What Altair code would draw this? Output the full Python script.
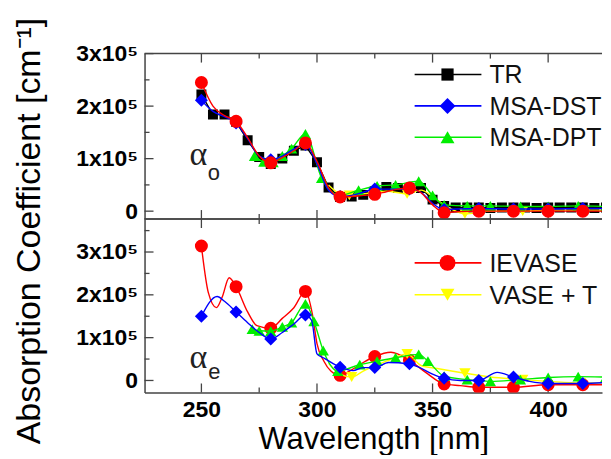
import altair as alt
import pandas as pd

FONT = "Liberation Sans"
AXIS_COLOR = "#444444"

# ---------------- axes ----------------
X_DOMAIN = [225.4, 423.3]
X_MAJOR = [250, 300, 350, 400]
X_MINOR = [275, 325, 375]
Y_MAJOR = [0, 1, 2, 3]          # units of 1e5 cm^-1
Y_MINOR_TOP = [0.5, 1.5, 2.5]
Y_MINOR_BOT = [0.5, 1.5, 2.5, 3.5]
TOP_Y_DOMAIN = [-0.15, 3.0]
BOT_Y_DOMAIN = [-0.28, 3.77]
Y_TITLE = "Absorption Coefficient [cm\u207b\u00b9]"

W = 459
H_TOP = 166
H_BOT = 174

# ---------------- data (absorption coefficient, units of 1e5 cm^-1) ----------------
# ordinary (alpha_o) panel
TR_O_WL = [250, 255, 260, 265, 270, 275, 280, 285, 290, 295, 300, 305, 310, 315, 320, 325, 330, 335,
           340, 345, 350, 355, 360, 365, 370, 375, 380, 385, 390, 395, 400, 405, 410, 415, 420, 425]
TR_O_VAL = [2.22, 1.84, 1.84, 1.70, 1.35, 1.03, 0.90, 1.00, 1.15, 1.25, 0.93, 0.45, 0.27, 0.28, 0.31, 0.38, 0.46, 0.44,
            0.44, 0.44, 0.22, 0.10, 0.07, 0.07, 0.07, 0.06, 0.07, 0.07, 0.07, 0.06, 0.07, 0.07, 0.07, 0.07, 0.06, 0.07]

IE_O_WL = [250, 255, 260, 265, 270, 275, 280, 285, 290, 295, 300, 305, 310, 315, 320, 325, 330, 335, 340, 345,
           350, 355, 360, 370, 385, 400, 415, 425]
IE_O_VAL = [2.45, 2.00, 1.82, 1.71, 1.40, 1.05, 0.92, 1.02, 1.15, 1.30, 0.95, 0.45, 0.27, 0.28, 0.30, 0.32, 0.37, 0.42, 0.44, 0.35,
            0.12, -0.03, -0.01, 0.0, 0.0, 0.0, 0.0, 0.0]
IE_O_MK_WL = [250, 265, 280, 295, 310, 325, 340, 355, 370, 385, 400, 415]
IE_O_MK_VAL = [2.45, 1.71, 0.92, 1.30, 0.27, 0.32, 0.44, -0.03, 0.0, 0.0, 0.0, 0.0]

DST_O_WL = [250, 255, 260, 265, 270, 275, 280, 285, 290, 295, 300, 305, 310, 315, 320, 325, 330, 335, 340, 345,
            350, 355, 360, 370, 385, 400, 415, 425]
DST_O_VAL = [2.11, 1.90, 1.80, 1.68, 1.38, 1.05, 0.98, 1.05, 1.18, 1.27, 0.90, 0.40, 0.28, 0.30, 0.36, 0.42, 0.42, 0.42, 0.42, 0.36,
             0.15, 0.03, 0.04, 0.05, 0.04, 0.04, 0.05, 0.05]
DST_O_MK_WL = [250, 265, 280, 295, 310, 325, 340, 355, 370, 385, 400, 415]
DST_O_MK_VAL = [2.11, 1.68, 0.98, 1.27, 0.28, 0.42, 0.42, 0.03, 0.05, 0.04, 0.04, 0.05]

DPT_O_WL = [273, 277, 281, 285, 289, 295, 302, 310, 318, 326, 334, 344, 350, 355, 365, 375, 388, 400, 413, 425]
DPT_O_VAL = [1.05, 0.94, 0.93, 1.05, 1.19, 1.47, 0.63, 0.30, 0.40, 0.48, 0.50, 0.57, 0.30, 0.12, 0.10, 0.10, 0.09, 0.09, 0.10, 0.09]

VT_O_WL = [305, 310, 314, 320, 330, 339, 345, 350, 355, 364, 375, 389, 400, 414, 425]
VT_O_VAL = [0.50, 0.33, 0.30, 0.33, 0.38, 0.33, 0.40, 0.28, 0.12, -0.05, 0.0, 0.0, 0.02, 0.02, 0.02]
VT_O_MK_WL = [314, 339, 364, 389, 414]
VT_O_MK_VAL = [0.30, 0.33, -0.05, 0.0, 0.02]

# extraordinary (alpha_e) panel
IE_E_WL = [250, 253, 256.5, 259, 262, 265, 270, 274, 280, 285, 290, 295, 298, 300, 303, 306, 310, 315, 320, 325,
           332, 340, 347, 355, 362, 370, 385, 400, 415, 425]
IE_E_VAL = [3.14, 2.05, 1.70, 1.95, 2.40, 2.19, 1.60, 1.28, 1.22, 1.45, 1.70, 2.08, 1.55, 0.86, 0.45, 0.22, 0.12, 0.25, 0.42, 0.56,
            0.66, 0.47, 0.19, -0.08, -0.12, -0.16, -0.16, -0.10, -0.10, -0.10]
IE_E_MK_WL = [250, 265, 280, 295, 310, 325, 340, 355, 370, 385, 400, 415]
IE_E_MK_VAL = [3.14, 2.19, 1.22, 2.08, 0.12, 0.56, 0.47, -0.08, -0.16, -0.16, -0.10, -0.10]

DST_E_WL = [250, 256.8, 260, 265, 270, 275, 280, 285, 290, 295, 297.7, 300, 303.4, 310, 315.6, 320, 325, 331, 339.4, 344,
            350, 355, 362, 370, 378, 385, 392, 400, 415, 425]
DST_E_VAL = [1.50, 1.96, 1.85, 1.60, 1.35, 1.12, 0.97, 1.12, 1.32, 1.53, 1.40, 0.62, 0.51, 0.31, 0.23, 0.30, 0.30, 0.42, 0.39, 0.31,
             0.15, 0.05, 0.0, 0.0, 0.19, 0.08, -0.02, -0.07, -0.07, -0.05]
DST_E_MK_WL = [250, 265, 280, 295, 310, 325, 340, 355, 370, 385, 400, 415]
DST_E_MK_VAL = [1.50, 1.60, 0.97, 1.53, 0.31, 0.30, 0.39, 0.05, 0.0, 0.08, -0.07, -0.07]

DPT_E_WL = [272, 275, 280, 285, 289, 295, 298.7, 302.7, 309, 318.5, 326, 334, 344, 348, 355, 365, 375, 388, 400, 413, 425]
DPT_E_VAL = [1.20, 1.16, 1.15, 1.25, 1.35, 1.79, 1.38, 0.70, 0.22, 0.37, 0.45, 0.53, 0.61, 0.45, 0.10, 0.02, -0.02, 0.02, 0.07, 0.09, 0.08]

VT_E_WL = [305, 310, 315, 320, 330, 339, 345, 352, 364, 375, 389, 400, 414, 425]
VT_E_VAL = [0.40, 0.15, 0.08, 0.22, 0.45, 0.62, 0.35, 0.28, 0.17, 0.08, 0.02, -0.02, -0.06, -0.05]
VT_E_MK_WL = [315, 339, 364, 389, 414]
VT_E_MK_VAL = [0.08, 0.62, 0.17, 0.02, -0.06]

LEGEND_TOP = ["TR", "MSA-DST", "MSA-DPT"]
LEGEND_BOT = ["IEVASE", "VASE + T"]

COLORS = {"TR": "#000000", "MSA-DST": "#0000FF", "MSA-DPT": "#00EE00", "IEVASE": "#FF0000", "VASE + T": "#FFFF00"}
SHAPES = {"TR": "square", "MSA-DST": "diamond", "MSA-DPT": "triangle-up", "IEVASE": "circle", "VASE + T": "triangle-down"}
SIZES = {"TR": 100, "MSA-DST": 170, "MSA-DPT": 130, "IEVASE": 170, "VASE + T": 130}

LABEL_EXPR = "datum.value == 0 ? '0' : datum.value + 'x10\u2075'"


def xenc(show):
    scale = alt.Scale(domain=X_DOMAIN, nice=False, zero=False)
    if show:
        ax = alt.Axis(values=X_MAJOR, labels=True, ticks=False, grid=False, domain=True,
                      domainColor=AXIS_COLOR, domainWidth=1.5, title="Wavelength [nm]",
                      labelFont=FONT, labelFontSize=23, labelFontWeight="bold", labelColor="black",
                      labelPadding=6, titleFont=FONT, titleFontSize=31, titleFontWeight="normal",
                      titleColor="black", titlePadding=3)
        return alt.X("wl:Q", scale=scale, axis=ax)
    return alt.X("wl:Q", scale=scale, axis=None)


def yenc(domain):
    ax = alt.Axis(values=Y_MAJOR, labelExpr=LABEL_EXPR, ticks=False, grid=False, domain=True,
                  domainColor=AXIS_COLOR, domainWidth=1.5, labelFont=FONT, labelFontSize=23,
                  labelFontWeight="bold", labelColor="black", labelPadding=7, title=None)
    return alt.Y("v:Q", scale=alt.Scale(domain=domain, nice=False, zero=False), axis=ax)


def line(wl, val, name, show, dom, interp="monotone"):
    df = pd.DataFrame({"wl": wl, "v": val})
    return alt.Chart(df).mark_line(color=COLORS[name], strokeWidth=1.4, interpolate=interp, clip=True).encode(
        x=xenc(show), y=yenc(dom))


def marks(wl, val, name, show, dom):
    df = pd.DataFrame({"wl": wl, "v": val})
    return alt.Chart(df).mark_point(shape=SHAPES[name], filled=True, opacity=1, size=SIZES[name],
                                    color=COLORS[name], strokeWidth=0, clip=True).encode(
        x=xenc(show), y=yenc(dom))


def frame(show, dom, h, yminor):
    dummy = pd.DataFrame({"a": [0]})
    layers = []
    layers.append(alt.Chart(dummy).mark_rule(color=AXIS_COLOR, strokeWidth=1.5).encode(
        x=alt.value(0), x2=alt.value(W), y=alt.value(0)))
    if not show:
        layers.append(alt.Chart(dummy).mark_rule(color=AXIS_COLOR, strokeWidth=1.5).encode(
            x=alt.value(0), x2=alt.value(W), y=alt.value(h)))
    layers.append(alt.Chart(pd.DataFrame({"v": Y_MAJOR})).mark_rule(color=AXIS_COLOR, strokeWidth=1.3).encode(
        y=yenc(dom), x=alt.value(0), x2=alt.value(9)))
    layers.append(alt.Chart(pd.DataFrame({"v": yminor})).mark_rule(color=AXIS_COLOR, strokeWidth=1.3).encode(
        y=yenc(dom), x=alt.value(0), x2=alt.value(5)))
    for vals, ln in ((X_MAJOR, 9), (X_MINOR, 5)):
        df = pd.DataFrame({"wl": vals})
        layers.append(alt.Chart(df).mark_rule(color=AXIS_COLOR, strokeWidth=1.3).encode(
            x=xenc(show), y=alt.value(h), y2=alt.value(h - ln)))
        layers.append(alt.Chart(df).mark_rule(color=AXIS_COLOR, strokeWidth=1.3).encode(
            x=xenc(show), y=alt.value(0), y2=alt.value(ln)))
    return layers


def legend(names, y0, step):
    layers = []
    dummy = pd.DataFrame({"a": [0]})
    for i, name in enumerate(names):
        y = y0 + i * step
        layers.append(alt.Chart(dummy).mark_rule(color=COLORS[name], strokeWidth=1.6).encode(
            x=alt.value(271), x2=alt.value(338), y=alt.value(y)))
        layers.append(alt.Chart(dummy).mark_point(shape=SHAPES[name], filled=True, opacity=1,
                                                  size=SIZES[name] * 1.5, color=COLORS[name], strokeWidth=0).encode(
            x=alt.value(304), y=alt.value(y)))
        layers.append(alt.Chart(dummy).mark_text(text=name, align="left", baseline="middle", font=FONT,
                                                 fontSize=25, color="#111111").encode(
            x=alt.value(346), y=alt.value(y + 1)))
    return layers


def alpha(sub, show, dom, wl, v, wl2, v2):
    a = alt.Chart(pd.DataFrame({"wl": [wl], "v": [v]})).mark_text(
        text="\u03b1", font="Liberation Serif", fontSize=34, color="#222222").encode(x=xenc(show), y=yenc(dom))
    s = alt.Chart(pd.DataFrame({"wl": [wl2], "v": [v2]})).mark_text(
        text=sub, font=FONT, fontSize=22, color="#222222").encode(x=xenc(show), y=yenc(dom))
    return [a, s]


top_layers = frame(False, TOP_Y_DOMAIN, H_TOP, Y_MINOR_TOP)
top_layers += [
    line(TR_O_WL, TR_O_VAL, "TR", False, TOP_Y_DOMAIN, "linear"),
    marks(TR_O_WL, TR_O_VAL, "TR", False, TOP_Y_DOMAIN),
    line(VT_O_WL, VT_O_VAL, "VASE + T", False, TOP_Y_DOMAIN),
    marks(VT_O_MK_WL, VT_O_MK_VAL, "VASE + T", False, TOP_Y_DOMAIN),
    line(DPT_O_WL, DPT_O_VAL, "MSA-DPT", False, TOP_Y_DOMAIN),
    marks(DPT_O_WL, DPT_O_VAL, "MSA-DPT", False, TOP_Y_DOMAIN),
    line(DST_O_WL, DST_O_VAL, "MSA-DST", False, TOP_Y_DOMAIN),
    marks(DST_O_MK_WL, DST_O_MK_VAL, "MSA-DST", False, TOP_Y_DOMAIN),
    line(IE_O_WL, IE_O_VAL, "IEVASE", False, TOP_Y_DOMAIN),
    marks(IE_O_MK_WL, IE_O_MK_VAL, "IEVASE", False, TOP_Y_DOMAIN),
]
top_layers += alpha("o", False, TOP_Y_DOMAIN, 248.7, 1.07, 255.4, 0.73)
top_layers += legend(LEGEND_TOP, 21, 31.5)
# shared y-axis title, drawn as rotated text left of both panels
top_layers.append(alt.Chart(pd.DataFrame({"a": [0]})).mark_text(
    text=Y_TITLE, angle=270, align="center", baseline="middle", font=FONT, fontSize=34,
    color="black").encode(x=alt.value(-115), y=alt.value(178)))

bot_layers = frame(True, BOT_Y_DOMAIN, H_BOT, Y_MINOR_BOT)
bot_layers += [
    line(IE_E_WL, IE_E_VAL, "IEVASE", True, BOT_Y_DOMAIN),
    marks(IE_E_MK_WL, IE_E_MK_VAL, "IEVASE", True, BOT_Y_DOMAIN),
    line(VT_E_WL, VT_E_VAL, "VASE + T", True, BOT_Y_DOMAIN),
    marks(VT_E_MK_WL, VT_E_MK_VAL, "VASE + T", True, BOT_Y_DOMAIN),
    line(DPT_E_WL, DPT_E_VAL, "MSA-DPT", True, BOT_Y_DOMAIN),
    marks(DPT_E_WL, DPT_E_VAL, "MSA-DPT", True, BOT_Y_DOMAIN),
    line(DST_E_WL, DST_E_VAL, "MSA-DST", True, BOT_Y_DOMAIN),
    marks(DST_E_MK_WL, DST_E_MK_VAL, "MSA-DST", True, BOT_Y_DOMAIN),
]
bot_layers += alpha("e", True, BOT_Y_DOMAIN, 248.7, 0.53, 255.6, 0.19)
bot_layers += legend(LEGEND_BOT, 44, 32)

top = alt.layer(*top_layers).properties(width=W, height=H_TOP)
bot = alt.layer(*bot_layers).properties(width=W, height=H_BOT)

chart = alt.vconcat(top, bot, spacing=0, bounds="flush").properties(
    padding={"left": 4, "top": 9, "right": 0, "bottom": 0},
).configure_view(stroke=None)

chart.save("out.html", embed_options={"renderer": "svg", "actions": False})
